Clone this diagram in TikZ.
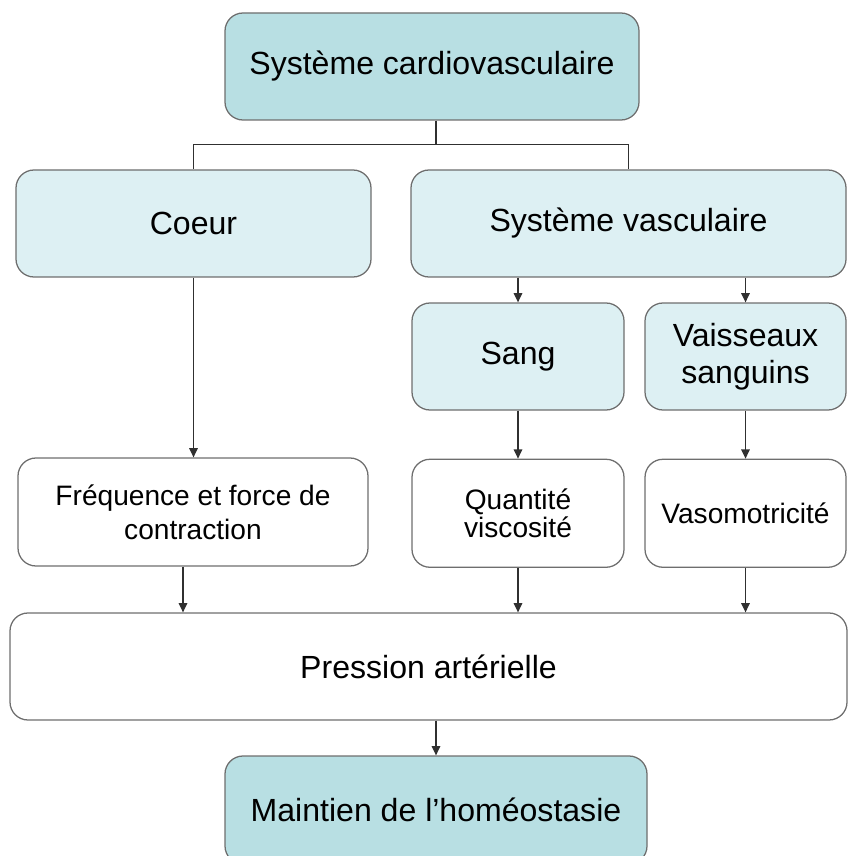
\documentclass[tikz,border=0pt]{standalone}
\usepackage{fontspec}
\setmainfont{Liberation Sans}
\usepackage{xcolor}
\usetikzlibrary{arrows.meta, positioning, calc}
\definecolor{tealdark}{HTML}{B8DFE3}
\definecolor{teallight}{HTML}{DDF0F3}
\definecolor{boxline}{HTML}{6E6E6E}
\definecolor{wireline}{HTML}{303030}
\tikzset{
    mainbox/.style={
        rectangle,
        draw=boxline,
        line width=0.9pt,
        rounded corners=0.45cm,
        minimum height=2.675cm,
        inner sep=0pt,
        align=center,
        fill=tealdark,
        font=\fontsize{22.8}{26.3}\selectfont
    },
    partbox/.style={
        mainbox,
        fill=teallight
    },
    factorbox/.style={
        mainbox,
        fill=white,
        minimum height=2.7cm,
        font=\fontsize{20}{24}\selectfont
    },
    wire/.style={
        draw=wireline,
        line width=1pt
    },
    arrowwire/.style={
        wire,
        -{Triangle[length=6.5pt,width=6pt]}
    }
}
\begin{document}
\begin{tikzpicture}
\useasboundingbox (0,0) rectangle (21.2,-21.4);

% Top level
\node[mainbox, minimum width=10.35cm] (cardio) at (10.8,-1.6625) {Système cardiovasculaire};

% Second level
\node[partbox, minimum width=8.875cm] (coeur) at (4.8375,-5.5875) {Coeur};
\node[partbox, minimum width=10.875cm] (vasc) at (15.7125,-5.5875) {Système vasculaire};

\node[partbox, minimum width=5.3cm] (sang) at (12.95,-8.9125) {Sang};
\node[partbox, minimum width=5.025cm] (vaiss) at (18.6375,-8.9125) {Vaisseaux\\sanguins};

% Factors
\node[factorbox, minimum width=8.75cm] (freq) at (4.825,-12.8) {Fréquence et force de\\contraction};
\node[factorbox, minimum width=5.3cm, below=1.2cm of sang, font=\fontsize{20}{18.5}\selectfont] (quant) {Quantité\\viscosité};
\node[factorbox, minimum width=5.025cm, below=1.2cm of vaiss] (vaso) {Vasomotricité};

% Bottom
\node[factorbox, minimum width=20.925cm, minimum height=2.675cm, font=\fontsize{22.8}{26.3}\selectfont] (press) at (10.7125,-16.6625) {Pression artérielle};
\node[mainbox, minimum width=10.55cm, minimum height=2.7cm] (maint) at (10.9,-20.25) {Maintien de l’homéostasie};

\draw[wire] (cardio.south -| maint) -- ++(0,-0.6) coordinate (split);
\draw[wire] (split) -| (coeur.north);
\draw[wire] (split) -| (vasc.north);

\draw[arrowwire] (vasc.south -| sang) -- (sang.north);
\draw[arrowwire] (vasc.south -| vaiss) -- (vaiss.north);

\draw[arrowwire] (coeur.south) -- (coeur.south |- freq.north);
\draw[arrowwire] (sang) -- (quant);
\draw[arrowwire] (vaiss) -- (vaso);

\draw[arrowwire] ([xshift=-0.25cm]freq.south) -- ([xshift=-0.25cm]freq.south |- press.north);
\draw[arrowwire] (quant.south) -- (quant.south |- press.north);
\draw[arrowwire] (vaso.south) -- (vaso.south |- press.north);

\draw[arrowwire] (press.south -| maint) -- (maint.north);

\end{tikzpicture}
\end{document}
